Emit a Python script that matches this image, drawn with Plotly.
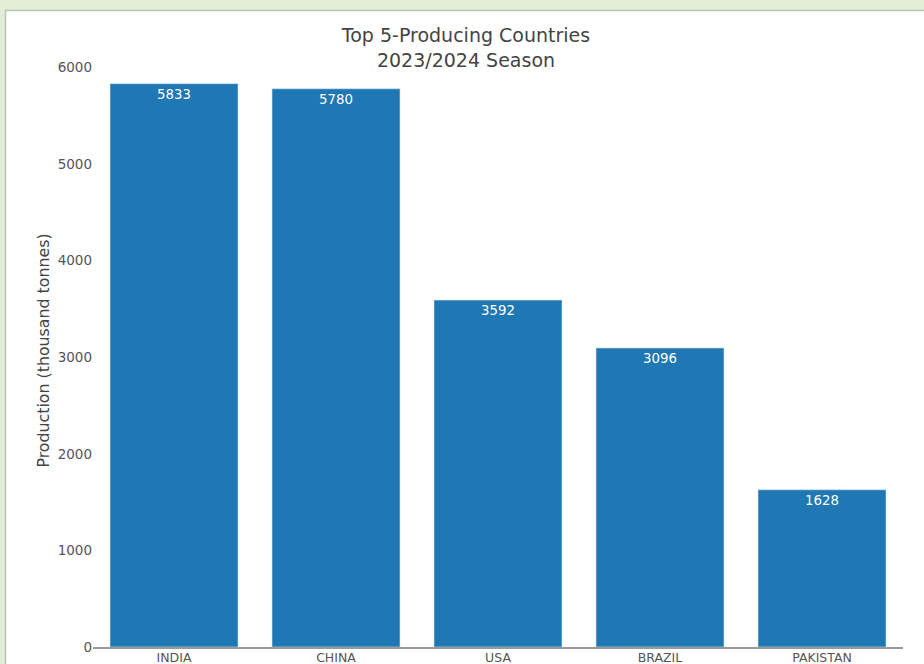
import plotly.graph_objects as go

countries = ["INDIA", "CHINA", "USA", "BRAZIL", "PAKISTAN"]
production = [5833, 5780, 3592, 3096, 1628]
y_ticks = [0, 1000, 2000, 3000, 4000, 5000, 6000]

W, H = 924, 664
L, R, T, B = 93, 21, 54, 17
pw, ph = W - L - R, H - T - B

def px_x(px):
    return (px - L) / pw

def px_y(py):
    return (H - B - py) / ph

FONT = "DejaVu Sans, Verdana, sans-serif"

fig = go.Figure(
    go.Bar(
        x=countries,
        y=production,
        text=[str(v) for v in production],
        textposition="inside",
        insidetextanchor="end",
        textfont=dict(color="white", size=13.3, family=FONT),
        marker=dict(color="#1f77b4", line=dict(color="#cfe3f3", width=0.6)),
        width=0.79,
    )
)

fig.add_shape(
    type="rect", xref="paper", yref="paper", layer="below",
    x0=px_x(5.5), x1=px_x(W + 20), y0=px_y(H + 20), y1=px_y(10.5),
    fillcolor="white", line=dict(color="#b9c4b2", width=1.5),
)

fig.update_layout(
    width=W, height=H,
    margin=dict(l=L, r=R, t=T, b=B, autoexpand=False),
    paper_bgcolor="#e2eed8",
    plot_bgcolor="white",
    font=dict(family=FONT, color="#444"),
    title=dict(
        text="Top 5-Producing Countries<br>2023/2024 Season",
        x=466 / W, xanchor="center", xref="container",
        y=1 - 42 / H, yanchor="top", yref="container",
        font=dict(size=19, color="#444", family=FONT),
    ),
    showlegend=False,
    bargap=0.21,
)

fig.update_xaxes(
    automargin=False,
    showline=True, linecolor="#999", linewidth=1.5,
    showgrid=False, ticks="", ticklabelstandoff=-2,
    tickfont=dict(size=12.5, color="#555", family=FONT),
)
fig.update_yaxes(
    automargin=False,
    range=[0, 6140], tickvals=y_ticks, ticktext=[str(v) for v in y_ticks],
    showline=False, showgrid=False, zeroline=False, ticks="",
    tickfont=dict(size=13.5, color="#555", family=FONT),
    title=dict(text="Production (thousand tonnes)", font=dict(size=15.8, color="#444", family=FONT), standoff=4),
)

fig.write_html(
    "out.html",
    config={"displayModeBar": False},
    post_script="document.body.style.margin='0px';document.body.style.padding='0px';",
)
